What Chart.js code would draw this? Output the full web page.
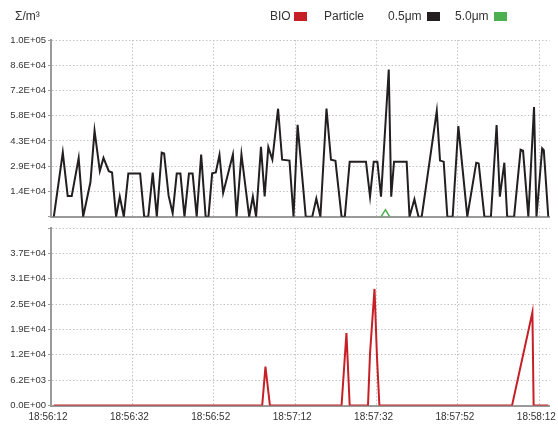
<!DOCTYPE html>
<html>
<head>
<meta charset="utf-8">
<script src="https://cdn.jsdelivr.net/npm/chart.js@4.4.1/dist/chart.umd.min.js"></script>
<style>
  body { margin: 0; background: #fff; font-family: "Liberation Sans", Arial, sans-serif; }
  #wrap { position: relative; width: 558px; height: 425px; overflow: hidden; }
  canvas { position: absolute; left: 0; }
  #top { top: 0; }
  #bottom { top: 222px; }
  .txt { position: absolute; top: 10px; font-size: 12px; line-height: 12px; color: #333; white-space: nowrap; }
  .box { position: absolute; top: 12px; width: 13px; height: 9px; }
</style>
</head>
<body>
<div id="wrap">
  <canvas id="top" width="558" height="222"></canvas>
  <canvas id="bottom" width="558" height="203"></canvas>
  <span class="txt" style="left:15px">Σ/m³</span>
  <span class="txt" style="left:270px">BIO</span><span class="box" style="left:294px;background:#c62026"></span>
  <span class="txt" style="left:324px">Particle</span>
  <span class="txt" style="left:388px">0.5μm</span><span class="box" style="left:427px;background:#231f20"></span>
  <span class="txt" style="left:455px">5.0μm</span><span class="box" style="left:494px;background:#4caf50"></span>
</div>
<script>
// seconds after 18:56:12
const startClock = [18, 56, 12];
const xTicks = [0, 20, 40, 60, 80, 100, 120];

const topTicks = [0, 14400, 28800, 43200, 57600, 72000, 86400, 100800];
const topLabelled = [14400, 28800, 43200, 57600, 72000, 86400, 100800];
const bottomTicks = [0, 6200, 12400, 18600, 24800, 31000, 37200, 43400];
const bottomLabelled = [0, 6200, 12400, 18600, 24800, 31000, 37200];

// Particle 0.5μm
const p05Times = [0.7, 2.9, 4.1, 5.1, 6.8, 7.9, 9.7, 10.7, 12.0, 12.9,
  14.2, 15.0, 16.0, 16.9, 17.9, 19.0, 21.9, 22.9, 23.9, 25.0,
  26.0, 27.2, 27.8, 28.9, 29.9, 30.9, 31.8, 32.8, 33.9, 34.8,
  35.8, 36.9, 38.0, 38.7, 39.6, 40.5, 41.4, 42.3, 44.7, 45.6,
  46.8, 48.7, 49.6, 50.4, 51.6, 52.5, 53.4, 54.4, 55.8, 56.8,
  58.6, 59.6, 60.6, 62.6, 64.2, 65.2, 66.2, 67.7, 68.8, 69.9,
  71.4, 72.2, 73.4, 77.4, 78.4, 79.3, 80.2, 81.1, 83.0, 83.6,
  84.3, 87.4, 88.1, 89.3, 90.3, 91.1, 94.8, 95.6, 96.5, 97.4,
  98.7, 100.1, 102.3, 104.5, 105.1, 106.5, 108.1, 109.5, 110.3, 111.4,
  112.1, 113.8, 115.4, 116.0, 117.3, 118.7, 119.3, 120.7, 121.1, 122.2];
const p05Values = [0, 36600, 11800, 11800, 33500, 0, 19800, 49100, 26000, 33500,
  26000, 25200, 0, 11500, 0, 24700, 24700, 0, 0, 25100,
  0, 36500, 36000, 12000, 2000, 24600, 24600, 0, 24600, 24600,
  0, 35500, 0, 0, 24700, 25200, 35300, 13500, 35500, 0,
  35500, 0, 11400, 0, 39900, 11500, 39700, 32600, 61600, 32500,
  32000, 0, 52400, 0, 0, 10400, 0, 61700, 32500, 31900,
  0, 0, 31400, 31400, 11400, 31400, 31400, 11400, 84000, 11400,
  31400, 31400, 0, 9900, 0, 0, 60400, 32000, 31400, 0,
  0, 51700, 0, 30800, 30400, 0, 0, 52300, 11400, 30800,
  0, 0, 38200, 37600, 0, 62500, 0, 39000, 38000, 0];

// Particle 5.0μm
const p50Times = [81.1, 82.2, 83.2];
const p50Values = [0, 4000, 0];

// BIO
const bioTimes = [0.7, 51.9, 52.7, 53.8, 71.4, 72.6, 73.4, 77.9, 78.4, 79.5, 80.1, 80.7, 113.3, 118.3, 118.6, 122.2];
const bioValues = [0, 0, 9500, 0, 0, 17700, 0, 0, 12800, 28500, 12000, 0, 0, 22800, 0, 0];

const pts = (xs, ys) => xs.map((x, i) => ({ x: x, y: ys[i] }));

function sci(v) {
  const [m, e] = v.toExponential(1).split('e');
  const n = parseInt(e, 10);
  return m + 'E' + (n < 0 ? '-' : '+') + String(Math.abs(n)).padStart(2, '0');
}

function clock(s) {
  let t = startClock[0] * 3600 + startClock[1] * 60 + startClock[2] + Math.round(s);
  const h = Math.floor(t / 3600), m = Math.floor(t / 60) % 60, sec = t % 60;
  return h + ':' + String(m).padStart(2, '0') + ':' + String(sec).padStart(2, '0');
}

const gridStyle = { color: '#c4c4c4', tickColor: '#999', tickBorderDash: [], tickLength: 3 };
const borderStyle = { color: '#9a9a9a', width: 2, dash: [1.5, 2] };
const tickFont = { family: '"Liberation Sans", Arial, sans-serif', size: 9.5 };

function xScale(showLabels) {
  return {
    type: 'linear', min: 0, max: 122.5,
    afterBuildTicks: s => { s.ticks = xTicks.map(v => ({ value: v })); },
    afterFit: s => { s.paddingLeft = 0; s.paddingRight = 0; s.height = showLabels ? 19.5 : 0; },
    grid: Object.assign({}, gridStyle, { drawTicks: false }),
    border: borderStyle,
    ticks: {
      display: showLabels, padding: 6, color: '#333', maxRotation: 0, labelOffset: -3,
      font: { family: tickFont.family, size: 10 },
      callback: v => clock(v)
    }
  };
}

function yScale(max, ticks, labelled) {
  return {
    min: 0, max: max,
    afterBuildTicks: s => { s.ticks = ticks.map(v => ({ value: v })); },
    afterFit: s => { s.width = 51; s.paddingTop = 0; s.paddingBottom = 0; },
    grid: gridStyle,
    border: borderStyle,
    ticks: {
      padding: 2, color: '#333', font: tickFont,
      callback: v => labelled.includes(v) ? sci(v) : ''
    }
  };
}

const common = {
  responsive: false,
  animation: false,
  devicePixelRatio: 1,
  events: [],
  elements: { point: { radius: 0 }, line: { tension: 0, borderWidth: 2, borderJoinStyle: 'miter' } },
  plugins: { legend: { display: false }, tooltip: { enabled: false } }
};

new Chart(document.getElementById('top'), {
  type: 'line',
  data: {
    datasets: [
      { label: '0.5μm', data: pts(p05Times, p05Values), borderColor: '#231f20' },
      { label: '5.0μm', data: pts(p50Times, p50Values), borderColor: '#4caf50', borderWidth: 1.5 }
    ]
  },
  options: Object.assign({}, common, {
    layout: { padding: { top: 40, right: 8.5, bottom: 5.3, left: 0 } },
    scales: { x: xScale(false), y: yScale(100800, topTicks, topLabelled) }
  })
});

new Chart(document.getElementById('bottom'), {
  type: 'line',
  data: {
    datasets: [
      { label: 'BIO', data: pts(bioTimes, bioValues), borderColor: '#c62026' }
    ]
  },
  options: Object.assign({}, common, {
    layout: { padding: { top: 6, right: 8.5, bottom: 0, left: 0 } },
    scales: { x: xScale(true), y: yScale(43400, bottomTicks, bottomLabelled) }
  })
});
</script>
</body>
</html>
